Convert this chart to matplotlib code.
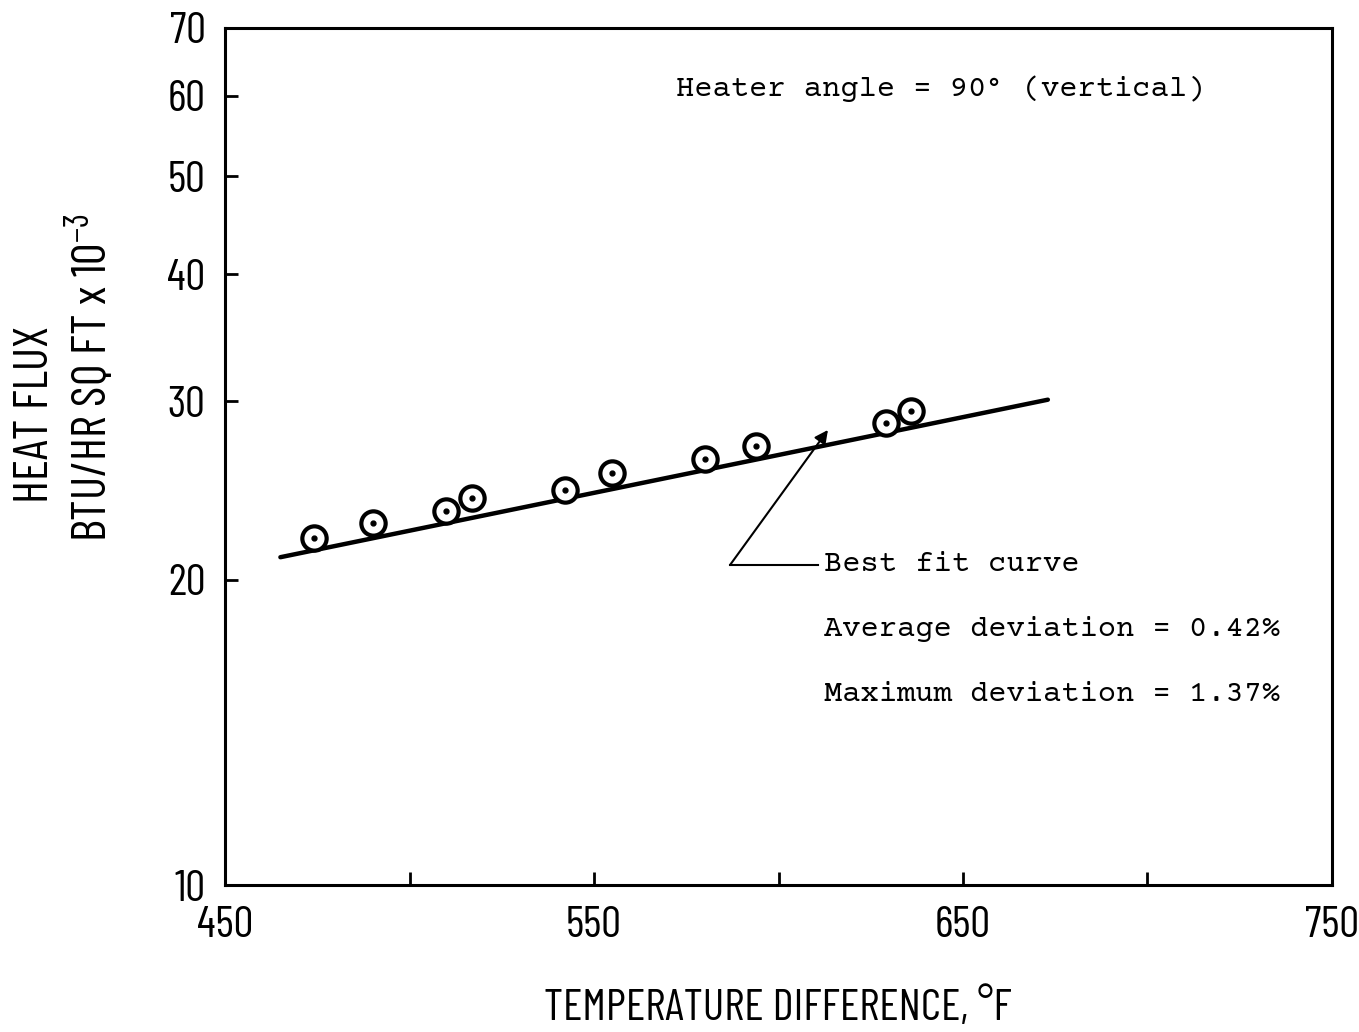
import matplotlib
matplotlib.use('Agg')
import matplotlib.pyplot as plt
from matplotlib.ticker import FixedLocator, NullLocator

# data
temp_diff = [474, 490, 510, 517, 542, 555, 580, 594, 629, 636]
heat_flux = [22.0, 22.75, 23.4, 24.1, 24.5, 25.5, 26.3, 27.1, 28.55, 29.35]
fit_x = [465, 673]
fit_y = [21.05, 30.1]

x_ticks = [450, 500, 550, 600, 650, 700, 750]
x_labels = ['450', '', '550', '', '650', '', '750']
y_ticks = [10, 20, 30, 40, 50, 60, 70]
y_labels = ['10', '20', '30', '40', '50', '60', '70']

narrow = ['Barlow Condensed', 'DejaVu Sans']
mono = ['Courier Prime', 'Liberation Mono', 'DejaVu Sans Mono']

plt.rcParams['mathtext.fontset'] = 'custom'
plt.rcParams['mathtext.rm'] = 'Barlow Condensed'
plt.rcParams['mathtext.it'] = 'Barlow Condensed'
plt.rcParams['axes.unicode_minus'] = False

fig = plt.figure(figsize=(13.59, 10.32), dpi=100)
ax = fig.add_axes([0.1656, 0.1424, 0.8145, 0.8305])

ax.plot(fit_x, fit_y, color='black', lw=3.2, solid_capstyle='round', zorder=2)
ax.plot(temp_diff, heat_flux, 'o', ms=17.5, mfc='white', mec='black', mew=3, zorder=3)
ax.plot(temp_diff, heat_flux, 'o', ms=3.5, color='black', zorder=4)

ax.set_yscale('log')
ax.set_xlim(450, 750)
ax.set_ylim(10, 70)

ax.xaxis.set_major_locator(FixedLocator(x_ticks))
ax.set_xticklabels(x_labels)
ax.yaxis.set_major_locator(FixedLocator(y_ticks))
ax.yaxis.set_minor_locator(NullLocator())
ax.set_yticklabels(y_labels)

ax.tick_params(direction='in', length=9.5, width=2, labelsize=32)
ax.tick_params(axis='x', pad=15)
ax.tick_params(axis='y', pad=14)
for lab in ax.get_xticklabels() + ax.get_yticklabels():
    lab.set_family(narrow)
for s in ax.spines.values():
    s.set_linewidth(2.2)

# annotations
ax.annotate('', xy=(613.4, 28.1), xytext=(586.9, 20.69),
            arrowprops=dict(arrowstyle='-|>', color='black', lw=1.5,
                            mutation_scale=20, shrinkA=0, shrinkB=0))
ax.plot([586.9, 610.7], [20.69, 20.69], color='black', lw=1.5)

ax.text(0.4074, 0.9210, 'Heater angle = 90\u00b0 (vertical)', transform=ax.transAxes,
        family=mono, fontsize=22, va='baseline', ha='left')
ax.text(0.5411, 0.3664, 'Best fit curve', transform=ax.transAxes,
        family=mono, fontsize=22, va='baseline', ha='left')
ax.text(0.5411, 0.2905, 'Average deviation = 0.42%', transform=ax.transAxes,
        family=mono, fontsize=22, va='baseline', ha='left')
ax.text(0.5411, 0.2147, 'Maximum deviation = 1.37%', transform=ax.transAxes,
        family=mono, fontsize=22, va='baseline', ha='left')

# axis titles
fig.text(36 / 1359, 1 - 414 / 1032, 'HEAT FLUX', rotation=90, family=narrow,
         fontsize=35, ha='center', va='center')
fig.text(90 / 1359, 1 - 378 / 1032, 'BTU/HR SQ FT x 10$^{-3}$', rotation=90,
         family=narrow, fontsize=35, ha='center', va='center')
fig.text(778 / 1359, 1 - 1020 / 1032, 'TEMPERATURE DIFFERENCE, \u00b0F',
         family=narrow, fontsize=32.5, ha='center', va='baseline')

fig.savefig('out.png', dpi=100)
